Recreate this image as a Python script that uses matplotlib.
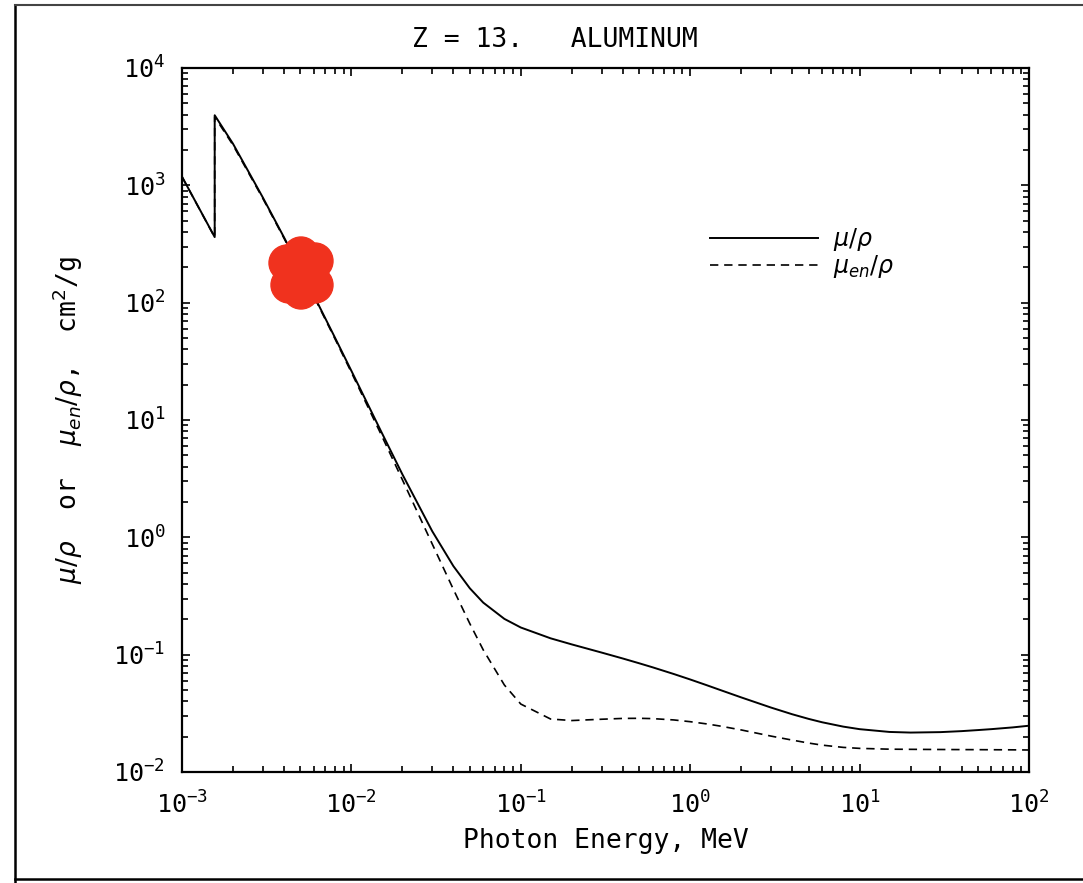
import matplotlib
matplotlib.use("Agg")
import matplotlib.pyplot as plt
from matplotlib.lines import Line2D
from matplotlib.patches import Ellipse
from matplotlib.ticker import LogLocator
import numpy as np

plt.rcParams.update({
    "font.family": "DejaVu Sans Mono",
    "mathtext.fontset": "dejavusans",
})

# ---- data: photon energy (MeV), mass attenuation and energy-absorption (cm2/g) ----
energy = [1.0e-3, 1.5e-3, 1.5596e-3, 1.5596e-3, 2.0e-3, 3.0e-3, 4.0e-3, 5.0e-3,
          6.0e-3, 8.0e-3, 1.0e-2, 1.5e-2, 2.0e-2, 3.0e-2, 4.0e-2, 5.0e-2,
          6.0e-2, 8.0e-2, 1.0e-1, 1.5e-1, 2.0e-1, 3.0e-1, 4.0e-1, 5.0e-1,
          6.0e-1, 8.0e-1, 1.0, 1.25, 1.5, 2.0, 3.0, 4.0, 5.0, 6.0, 8.0,
          10.0, 15.0, 20.0, 30.0, 40.0, 50.0, 60.0, 80.0, 100.0]
mu_rho = [1185, 402.2, 362.1, 3957, 2263, 788.0, 360.5, 193.4,
          115.3, 50.33, 26.23, 7.955, 3.441, 1.128, 0.5685, 0.3681,
          0.2778, 0.2018, 0.1704, 0.1378, 0.1223, 0.1042, 0.09276, 0.08445,
          0.07802, 0.06841, 0.06146, 0.05496, 0.05006, 0.04324, 0.03541, 0.03106,
          0.02836, 0.02655, 0.02437, 0.02318, 0.02195, 0.02168, 0.02187, 0.02230,
          0.02277, 0.02319, 0.02399, 0.02480]
muen_rho = [1183, 400.1, 360.0, 3829, 2204, 773.2, 354.5, 190.2,
            113.3, 49.18, 25.43, 7.487, 3.094, 0.8778, 0.3601, 0.1840,
            0.1099, 0.05511, 0.03794, 0.02827, 0.02745, 0.02816, 0.02862, 0.02868,
            0.02851, 0.02778, 0.02684, 0.02570, 0.02464, 0.02283, 0.02023, 0.01870,
            0.01765, 0.01695, 0.01621, 0.01590, 0.01565, 0.01560, 0.01555, 0.01552,
            0.01550, 0.01548, 0.01545, 0.01540]

title = "Z = 13.   ALUMINUM"

W, H = 1083, 883
fig = plt.figure(figsize=(W / 100, H / 100), dpi=100)
fig.patch.set_facecolor("white")
ax = fig.add_axes([182 / W, 1 - 772 / H, (1029 - 182) / W, (772 - 68) / H])

ax.plot(energy, mu_rho, color="black", lw=1.4, label=r"$\mu/\rho$")
ax.plot(energy, muen_rho, color="black", lw=1.2, ls=(0, (5, 3.5)),
        label=r"$\mu_{en}/\rho$")

ax.set_xscale("log")
ax.set_yscale("log")
ax.set_xlim(1e-3, 1e2)
ax.set_ylim(1e-2, 1e4)
ax.xaxis.set_major_locator(LogLocator(base=10, numticks=10))
ax.yaxis.set_major_locator(LogLocator(base=10, numticks=10))
ax.xaxis.set_minor_locator(LogLocator(base=10, subs=np.arange(2, 10), numticks=20))
ax.yaxis.set_minor_locator(LogLocator(base=10, subs=np.arange(2, 10), numticks=20))
ax.tick_params(which="both", direction="in", top=True, right=True, width=1.2,
               labelsize=18, colors="black")
ax.tick_params(which="major", length=6)
ax.tick_params(which="minor", length=4)
ax.tick_params(axis="x", pad=14)
ax.tick_params(axis="y", pad=12)
for s in ax.spines.values():
    s.set_linewidth(1.6)

ax.set_xlabel("Photon Energy, MeV", fontsize=19, labelpad=7)
ax.set_ylabel(r"$\mu/\rho$  or  $\mu_{en}/\rho$,  cm$^2$/g", fontsize=19, labelpad=20)
fig.text(555 / W, 1 - 40 / H, title, ha="center", va="center", fontsize=19)

ax.legend(loc="upper left", bbox_to_anchor=(698 / W, 1 - 214 / H),
          bbox_transform=fig.transFigure, frameon=False, fontsize=17,
          handlelength=4.6, handletextpad=0.6, borderpad=0, labelspacing=0.0)

# outer page border from the photographed sheet
fig.add_artist(Line2D([15 / W, 15 / W], [0, 1 - 5 / H], transform=fig.transFigure,
                      color="black", lw=1.8))
fig.add_artist(Line2D([15 / W, 1], [1 - 879 / H, 1 - 879 / H], transform=fig.transFigure,
                      color="black", lw=1.8))
fig.add_artist(Line2D([15 / W, 1], [1 - 5 / H, 1 - 5 / H], transform=fig.transFigure,
                      color="#444444", lw=1.5))

# red scribble over the curve
for dx, dy in [(0, 0), (-14, -10), (14, -12), (-12, 12), (14, 12), (0, -18), (0, 18)]:
    cx, cy = 301 + dx, 273 + dy
    fig.add_artist(Ellipse((cx / W, 1 - cy / H), 36 / W, 36 / H,
                           transform=fig.transFigure, color="#f0321e", zorder=10))

fig.savefig("out.png", dpi=100, facecolor="white")
